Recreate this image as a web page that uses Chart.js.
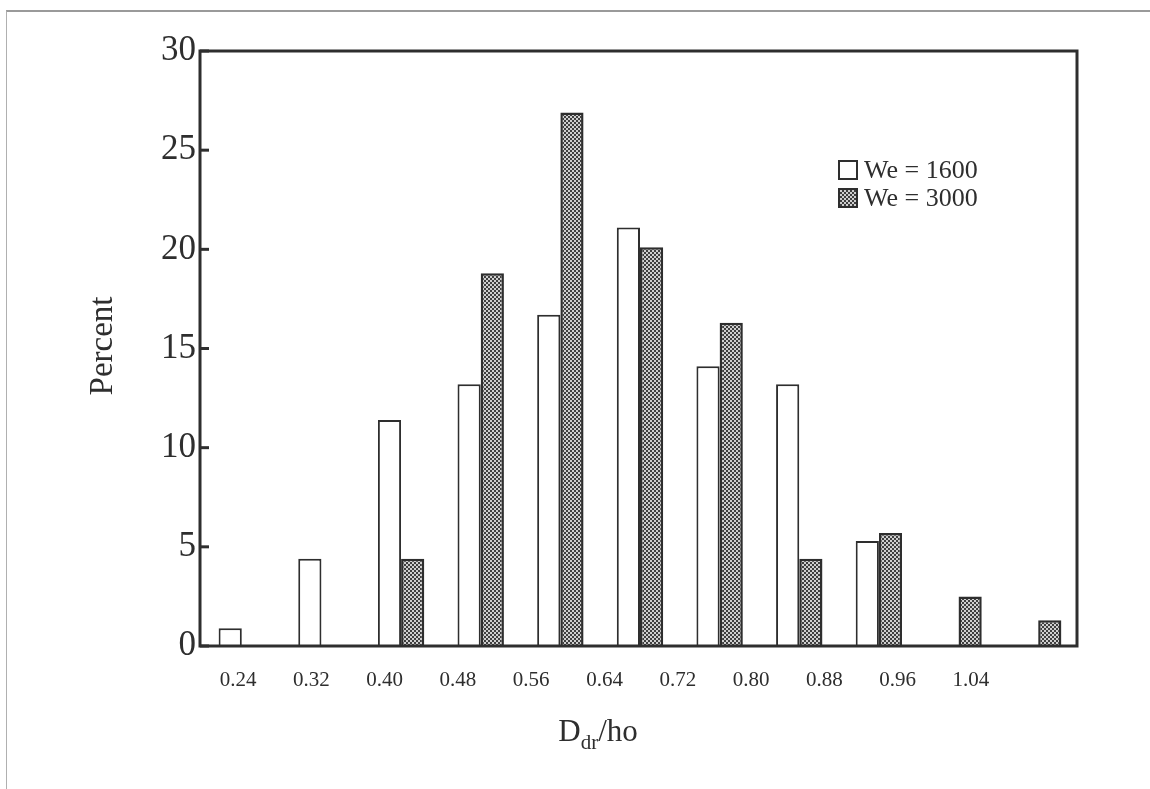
<!DOCTYPE html>
<html>
<head>
<meta charset="utf-8">
<script src="https://cdn.jsdelivr.net/npm/chart.js@4/dist/chart.umd.min.js"></script>
<style>
    html, body { margin: 0; padding: 0; background: #fff; }
    #wrap { position: relative; width: 1150px; height: 789px; }
    #scanFrame { position: absolute; left: 6px; top: 10px; right: 0; bottom: 0;
                 border-top: 2px solid #9a9a9a; border-left: 1px solid #b0b0b0; pointer-events: none; }
    canvas { position: absolute; left: 0; top: 0; }
</style>
</head>
<body>
<div id="wrap">
    <canvas id="chart" width="1150" height="789"></canvas>
    <div id="scanFrame"></div>
</div>
<script>
(function() {
    'use strict';

    // --- Data ---
    const categories = [0.24, 0.32, 0.40, 0.48, 0.56, 0.64, 0.72, 0.80, 0.88, 0.96, 1.04];
    const tickLabels = ['0.24', '0.32', '0.40', '0.48', '0.56', '0.64', '0.72', '0.80', '0.88', '0.96', '1.04'];
    const we1600 = [0.9, 4.4, 11.4, 13.2, 16.7, 21.1, 14.1, 13.2, 5.3, 0, 0];
    const we3000 = [0, 0, 4.4, 18.8, 26.9, 20.1, 16.3, 4.4, 5.7, 2.5, 1.3];
    const seriesLabels = ['We = 1600', 'We = 3000'];

    const ink = '#2e2e2e';
    const serif = '"Liberation Serif", "Times New Roman", serif';

    // checkered fill for the second series
    const makePattern = () => {
        const c = document.createElement('canvas');
        c.width = 4; c.height = 4;
        const g = c.getContext('2d');
        g.fillStyle = '#cfcfcf';
        g.fillRect(0, 0, 4, 4);
        g.fillStyle = '#3f3f3f';
        g.fillRect(0, 0, 2, 2);
        g.fillRect(2, 2, 2, 2);
        return document.getElementById('chart').getContext('2d').createPattern(c, 'repeat');
    };
    const checker = makePattern();

    const toPoints = values => categories.map((c, i) => ({ x: c, y: values[i] }));

    // frame, inside ticks, legend and axis titles
    const decorations = {
        id: 'decorations',
        afterDraw(chart) {
            const ctx = chart.ctx;
            const area = chart.chartArea;
            const y = chart.scales.y;
            ctx.save();

            ctx.strokeStyle = ink;
            ctx.lineWidth = 3;
            ctx.strokeRect(area.left, area.top, area.right - area.left, area.bottom - area.top);

            ctx.lineWidth = 3;
            y.ticks.forEach(t => {
                const py = y.getPixelForValue(t.value);
                ctx.beginPath();
                ctx.moveTo(area.left, py);
                ctx.lineTo(area.left + 9, py);
                ctx.stroke();
            });

            // legend
            const ds = chart.data.datasets;
            const lx = 839, rows = [170, 198];
            ds.forEach((d, i) => {
                const cy = rows[i];
                ctx.fillStyle = d.backgroundColor;
                ctx.fillRect(lx, cy - 9, 18, 18);
                ctx.lineWidth = 2;
                ctx.strokeStyle = ink;
                ctx.strokeRect(lx, cy - 9, 18, 18);
                ctx.fillStyle = ink;
                ctx.font = '26px ' + serif;
                ctx.textBaseline = 'middle';
                ctx.textAlign = 'left';
                ctx.fillText(d.label, lx + 25, cy + 1);
            });

            // y title
            ctx.save();
            ctx.translate(103, 346);
            ctx.rotate(-Math.PI / 2);
            ctx.font = '33px ' + serif;
            ctx.textAlign = 'center';
            ctx.textBaseline = 'middle';
            ctx.fillStyle = ink;
            ctx.fillText('Percent', 0, 0);
            ctx.restore();

            // x title with subscript
            const big = '31px ' + serif, small = '21px ' + serif;
            const parts = [['D', big, 0], ['dr', small, 8], ['/ho', big, 0]];
            let total = 0;
            parts.forEach(p => { ctx.font = p[1]; total += ctx.measureText(p[0]).width; });
            let px = 598 - total / 2;
            ctx.textAlign = 'left';
            ctx.textBaseline = 'alphabetic';
            ctx.fillStyle = ink;
            parts.forEach(p => {
                ctx.font = p[1];
                ctx.fillText(p[0], px, 741 + p[2]);
                px += ctx.measureText(p[0]).width;
            });

            ctx.restore();
        }
    };

    new Chart(document.getElementById('chart'), {
        type: 'bar',
        data: {
            datasets: [
                { label: seriesLabels[0], data: toPoints(we1600), backgroundColor: '#ffffff',
                  borderColor: ink, borderWidth: 2, xAxisID: 'x', yAxisID: 'y' },
                { label: seriesLabels[1], data: toPoints(we3000), backgroundColor: checker,
                  borderColor: ink, borderWidth: 2.5, xAxisID: 'x', yAxisID: 'y' }
            ]
        },
        options: {
            responsive: false,
            animation: false,
            devicePixelRatio: 1,
            categoryPercentage: 0.59,
            barPercentage: 1.0,
            layout: { padding: { left: 0, right: 73, top: 51, bottom: 0 } },
            plugins: { legend: { display: false }, tooltip: { enabled: false } },
            scales: {
                x: {
                    type: 'linear', display: false, position: 'bottom',
                    min: 0.198, max: 1.079, offset: false
                },
                x2: {
                    type: 'linear', position: 'bottom', offset: false,
                    min: 0.1985, max: 1.1557,
                    afterBuildTicks: s => { s.ticks = categories.map(v => ({ value: v })); },
                    afterFit: s => { s.height = 143; },
                    ticks: {
                        autoSkip: false, maxRotation: 0, padding: 22, color: ink,
                        font: { family: serif, size: 21 },
                        callback: (v, i) => tickLabels[i]
                    },
                    grid: { display: false, drawTicks: false, offset: false },
                    border: { display: false }
                },
                y: {
                    min: 0, max: 30,
                    afterFit: s => { s.width = 200; },
                    ticks: { stepSize: 5, padding: 4, color: ink, font: { family: serif, size: 35 } },
                    grid: { display: false, drawTicks: false },
                    border: { display: false }
                }
            }
        },
        plugins: [decorations]
    });
})();
</script>
</body>
</html>
